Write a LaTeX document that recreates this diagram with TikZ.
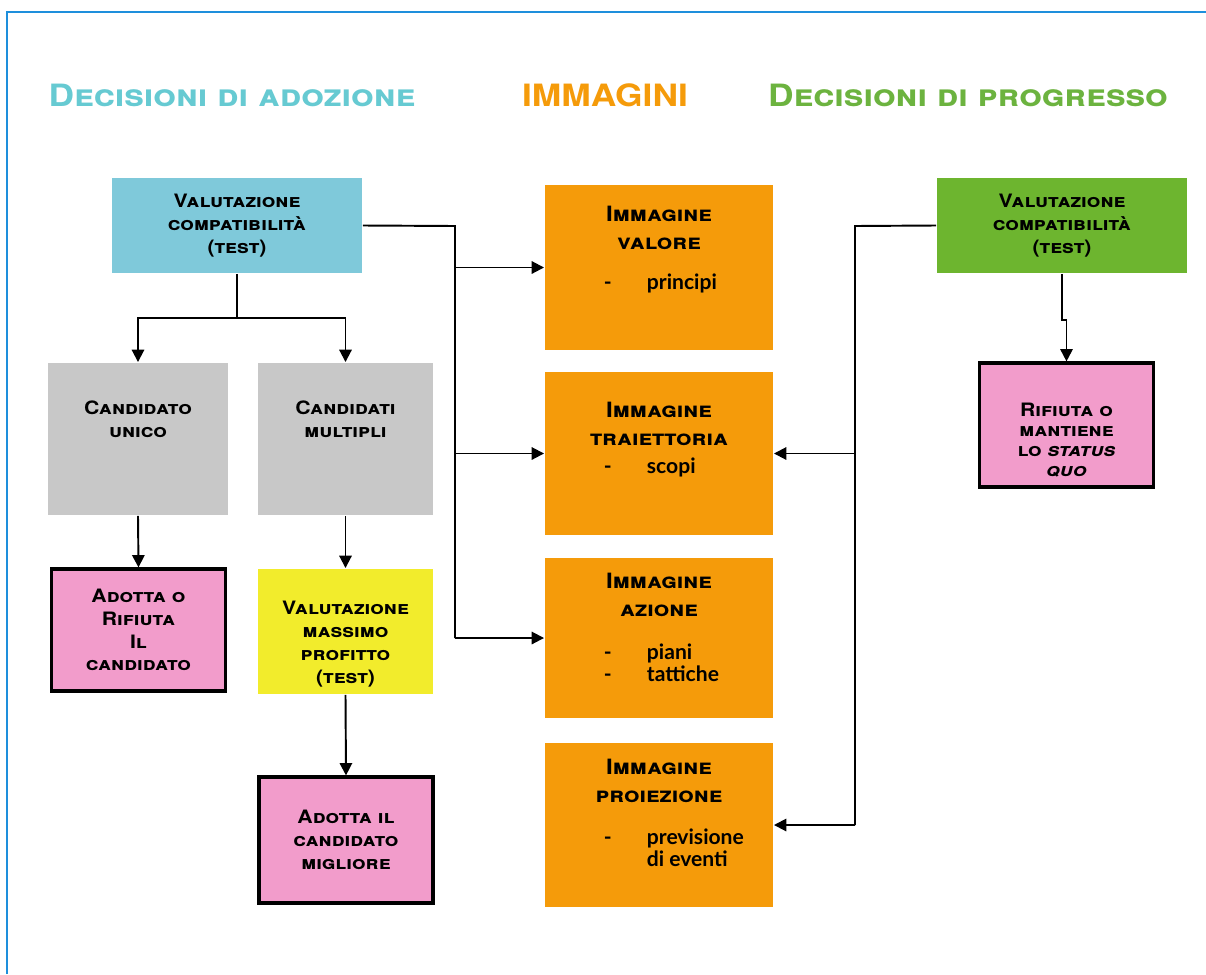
\documentclass[tikz,border=0pt]{standalone}
\usepackage{fontspec}
\setmainfont{TeX Gyre Heros}[FakeStretch=1.15]
\newfontfamily\itemfont{Lato}
\usetikzlibrary{arrows.meta}
\definecolor{frameblue}{HTML}{1E8FDC}
\definecolor{adozblue}{HTML}{7FC9DA}
\definecolor{adoztext}{HTML}{66CAD2}
\definecolor{candgray}{HTML}{C8C8C8}
\definecolor{esitopink}{HTML}{F29CCB}
\definecolor{profyellow}{HTML}{F2EC2C}
\definecolor{immorange}{HTML}{F59B0A}
\definecolor{progreen}{HTML}{6DB52F}
\definecolor{progtext}{HTML}{6CB33F}
\begin{document}
\begin{tikzpicture}[x=0.02cm,y=-0.02cm,
  dims/.style 2 args={minimum width=#1*0.02cm,minimum height=#2*0.02cm},
  box/.style={inner sep=0pt,align=center,font=\fontsize{10.5}{13}\selectfont\bfseries\scshape},
  esito/.style={box,fill=esitopink,draw=black,line width=1.8pt},
  immbox/.style={inner sep=0pt,fill=immorange,dims={228}{#1}},
  title/.style={inner sep=0pt,align=center,font=\fontsize{12}{15.5}\selectfont\bfseries\scshape},
  item/.style={inner sep=0pt,anchor=west,align=left,font=\fontsize{12}{12.5}\selectfont\itemfont\bfseries},
  head/.style={inner sep=0pt,font=\fontsize{17.5}{20}\selectfont\bfseries\scshape},
  arr/.style={-{Triangle[length=7pt,width=7pt]}},
  line width=1.1pt]
\useasboundingbox (0,0) rectangle (1206,974);
\fill[white] (0,0) rectangle (1206,974);
\draw[frameblue,line width=1.4pt] (7,974) -- (7,12) -- (1206,12);

\node[head,text=adoztext] (hAdoz) at (232,95) {Decisioni di adozione};
\node[head,text=immorange] (hImm) at (605,95) {IMMAGINI};
\node[head,text=progtext] (hProg) at (968,95) {Decisioni di progresso};

\node[box,fill=adozblue,dims={250}{95}] (valA) at (237,225.5) {Valutazione\\compatibilità\\(test)};
\node[box,fill=candgray,dims={180}{152}] (unico) at (138,439) {};
\node[box] (unicoT) at (138,419) {Candidato\\unico};
\node[box,fill=candgray,dims={175}{152}] (multi) at (345.5,439) {};
\node[box] (multiT) at (345.5,419) {Candidati\\multipli};
\node[esito,dims={174}{122}] (adotta) at (138.5,630) {Adotta o\\Rifiuta\\Il\\candidato};
\node[box,fill=profyellow,dims={175}{125}] (profitto) at (345.5,631.5) {};
\node[box] (profittoT) at (345.5,644) {Valutazione\\massimo\\profitto\\(test)};
\node[esito,dims={174}{126}] (migliore) at (346,840) {Adotta il\\candidato\\migliore};

\node[immbox=165] (valore) at (659,267.5) {};
\node[title] (valoreT) at (659,228) {Immagine\\valore};
\node[item] (valoreI) at (603,283) {\makebox[0.86cm][l]{-}principi};
\node[immbox=163] (traiet) at (659,453.5) {};
\node[title] (traietT) at (659,424) {Immagine\\traiettoria};
\node[item] (traietI) at (603,467) {\makebox[0.86cm][l]{-}scopi};
\node[immbox=160] (azione) at (659,638) {};
\node[title] (azioneT) at (659,595) {Immagine\\azione};
\node[item] (azioneI) at (603,663) {\makebox[0.86cm][l]{-}piani\\\makebox[0.86cm][l]{-}tattiche};
\node[immbox=164] (proiez) at (659,825) {};
\node[title] (proiezT) at (659,781) {Immagine\\proiezione};
\node[item] (proiezI) at (603,847.5) {\makebox[0.86cm][l]{-}previsione\\\hspace*{0.86cm}di eventi};

\node[box,fill=progreen,dims={250}{95}] (valP) at (1062,225.5) {Valutazione\\compatibilità\\(test)};
\node[esito,dims={174}{124}] (statusq) at (1066.5,425) {};
\node[box,font=\fontsize{10.5}{11.5}\selectfont\bfseries\scshape] (statusqT) at (1066.5,440) {Rifiuta o\\mantiene\\lo \textit{status}\\\textit{quo}};

\coordinate (jA) at (455,226);
\coordinate (sA) at (237,318);
\coordinate (jP) at (855,226);

\draw (valA.east) -- (jA) -- (jA |- azione.west);
\foreach \n in {valore,traiet,azione}
  \draw[arr] (jA |- \n.west) -- (\n.west);
\draw (valA.south) -- (sA);
\draw[arr] (sA) -| (unico.north);
\draw[arr] (sA) -| (multi.north);
\draw[arr] (unico.south) -- (adotta.north);
\draw[arr] (multi.south) -- (profitto.north);
\draw[arr] (profitto.south) -- (migliore.north);

\draw (valP.west) -- (jP) -- (jP |- proiez.east);
\foreach \n in {traiet,proiez}
  \draw[arr] (jP |- \n.east) -- (\n.east);
\draw[arr] (valP.south) -- ++(0,46) -| (statusq.north);
\end{tikzpicture}
\end{document}
